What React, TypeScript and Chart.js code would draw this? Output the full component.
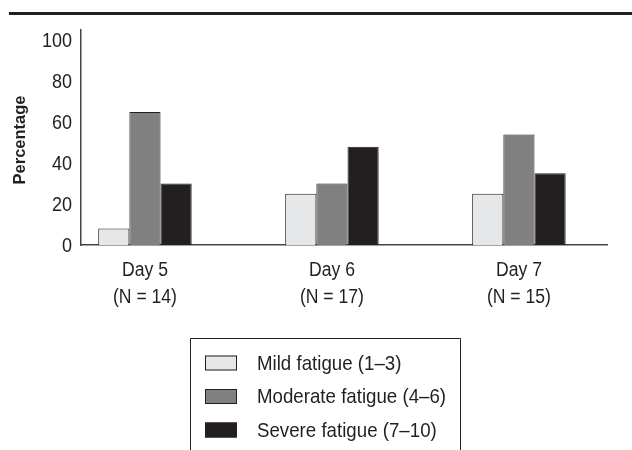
import React, { useEffect, useRef } from "react";
import { Chart, registerables } from "chart.js";

Chart.register(...registerables);

const categories = [["Day 5", "(N = 14)"], ["Day 6", "(N = 17)"], ["Day 7", "(N = 15)"]];
const mild = [8, 25, 25];
const moderate = [65, 30, 54];
const severe = [30, 48, 35];
const seriesNames = ["Mild fatigue (1\u20133)", "Moderate fatigue (4\u20136)", "Severe fatigue (7\u201310)"];
const yTicks = [0, 20, 40, 60, 80, 100];
const yTitle = "Percentage";

const FONT = "'Liberation Sans', Arial, sans-serif";
const INK = "#231f20";

function squeezed(ctx: any, text: string, x: number, y: number, k: number, align: string) {
  ctx.save();
  ctx.translate(x, y);
  ctx.scale(k, 1);
  ctx.textAlign = align;
  ctx.fillText(text, 0, 0);
  ctx.restore();
}

const frame = {
  id: "frame",
  afterDraw(chart: any) {
    const ctx = chart.ctx;
    const xs = chart.scales.x;
    const ys = chart.scales.y;
    ctx.save();
    // top rule
    ctx.fillStyle = INK;
    ctx.fillRect(9, 12, 623, 3);
    ctx.textBaseline = "middle";
    // y ticks
    ctx.font = "20px " + FONT;
    ys.ticks.forEach((t: any) => {
      squeezed(ctx, String(t.value), ys.right - 9, ys.getPixelForValue(t.value) + 1, 0.9, "right");
    });
    // x ticks
    xs.ticks.forEach((t: any) => {
      const lines = categories[t.value];
      const px = xs.getPixelForValue(t.value);
      lines.forEach((ln, j) => squeezed(ctx, ln, px, xs.top + 25 + j * 27, 0.88, "center"));
    });
    // y title
    ctx.save();
    ctx.translate(20, 140);
    ctx.rotate(-Math.PI / 2);
    ctx.font = "bold 17px " + FONT;
    squeezed(ctx, yTitle, 0, 0, 0.97, "center");
    ctx.restore();
    // legend box
    const bx = 190, by = 338, bw = 270;
    ctx.strokeStyle = INK;
    ctx.lineWidth = 1;
    ctx.beginPath();
    ctx.moveTo(bx + 0.5, 460);
    ctx.lineTo(bx + 0.5, by + 0.5);
    ctx.lineTo(bx + bw + 0.5, by + 0.5);
    ctx.lineTo(bx + bw + 0.5, 460);
    ctx.stroke();
    ctx.font = "21px " + FONT;
    chart.data.datasets.forEach((ds: any, i: number) => {
      const cy = 363 + i * 33.5;
      ctx.fillStyle = ds.backgroundColor;
      ctx.fillRect(205, cy - 7.5, 32, 15);
      ctx.strokeStyle = INK;
      ctx.strokeRect(205.5, cy - 7, 31, 14);
      ctx.fillStyle = INK;
      squeezed(ctx, ds.label, 257, cy + 1, 0.89, "left");
    });
    ctx.restore();
  },
};

export default function App() {
  const ref = useRef<HTMLCanvasElement>(null);
  useEffect(() => {
    const mk = (arr: number[]) => arr.map((y, i) => ({ x: i, y }));
    const chart = new Chart(ref.current!, {
      type: "bar",
      data: {
        datasets: [
          { label: seriesNames[0], data: mk(mild), backgroundColor: "#e6e7e8", borderColor: INK, borderWidth: 1 },
          { label: seriesNames[1], data: mk(moderate), backgroundColor: "#808080", borderColor: INK, borderWidth: 1 },
          { label: seriesNames[2], data: mk(severe), backgroundColor: INK, borderColor: INK, borderWidth: 1 },
        ] as any,
      },
      options: {
        animation: false,
        responsive: false,
        maintainAspectRatio: false,
        layout: { padding: { left: 0, top: 30, right: 25, bottom: 0 } },
        datasets: { bar: { categoryPercentage: 0.5, barPercentage: 1.0 } } as any,
        plugins: { legend: { display: false }, tooltip: { enabled: false } },
        scales: {
          x: {
            type: "linear",
            offset: false,
            min: -0.342,
            max: 2.471,
            grid: { display: false, drawTicks: false },
            border: { display: true, color: "#444", width: 1.5 },
            afterBuildTicks: (s: any) => {
              s.ticks = categories.map((_, i) => ({ value: i }));
            },
            afterFit: (s: any) => {
              s.height = 205;
            },
            ticks: { display: false },
          },
          y: {
            min: 0,
            max: 105,
            grid: { display: false, drawTicks: false },
            border: { display: true, color: "#444", width: 1.5 },
            afterBuildTicks: (s: any) => {
              s.ticks = yTicks.map((v) => ({ value: v }));
            },
            afterFit: (s: any) => {
              s.width = 81;
            },
            ticks: { display: false },
          },
        },
      },
      plugins: [frame],
    });
    return () => chart.destroy();
  }, []);
  return (
    <div style={{ position: "absolute", left: 0, top: 0, width: 632, height: 450, background: "#fff" }}>
      <canvas ref={ref} width={632} height={450} style={{ width: 632, height: 450 }} />
    </div>
  );
}
